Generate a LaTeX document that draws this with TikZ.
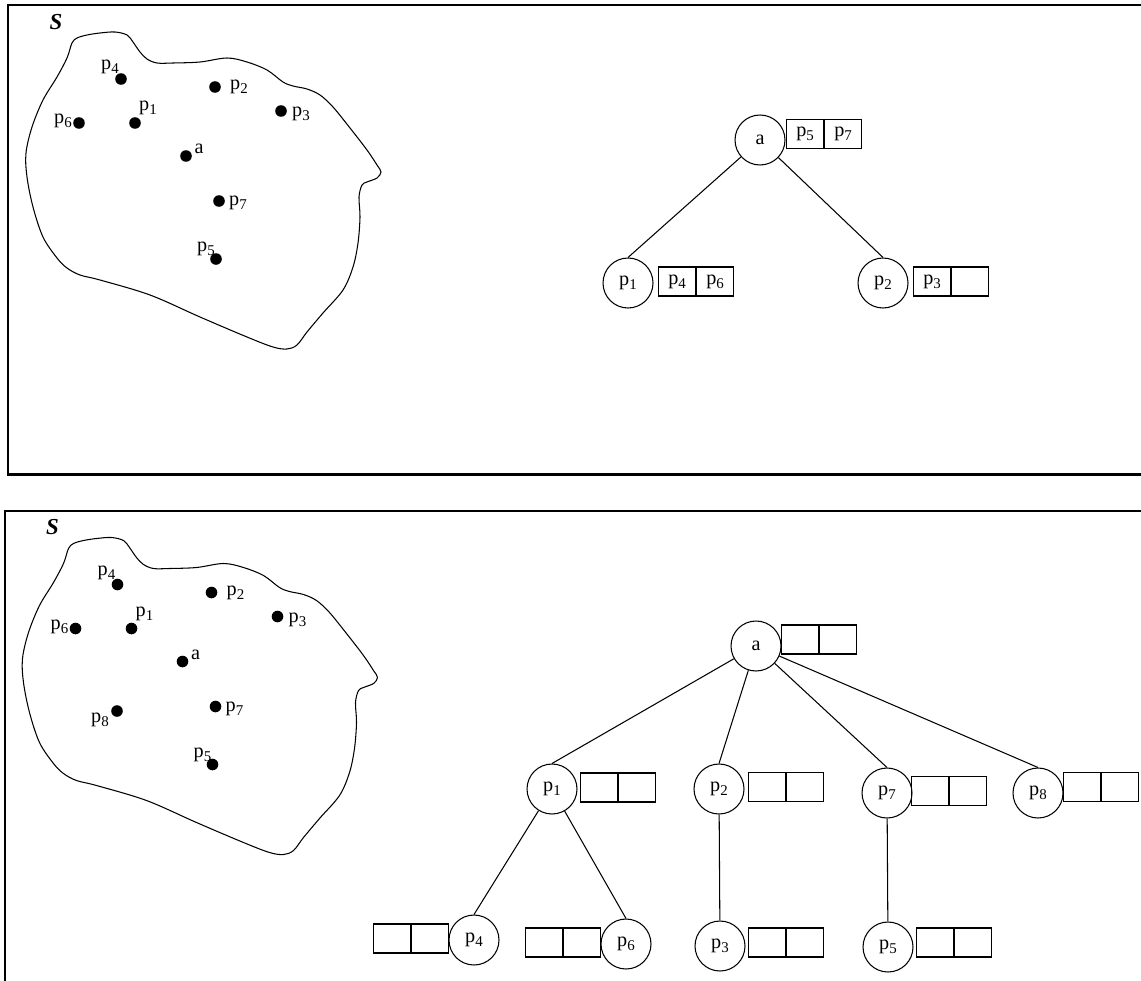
\documentclass[tikz,border=0pt]{standalone}
\usepackage{fontspec}
\setmainfont{Liberation Serif}
\usetikzlibrary{positioning}

\newcommand{\ptlabel}[1]{p\raisebox{-0.45ex}{\fontsize{8.5}{9}\selectfont #1}}

\tikzset{
  frame/.style={line width=1.2pt},
  edge/.style={line width=0.6pt},
  dot/.style={circle,fill=black,inner sep=0pt,minimum size=6.6pt},
  vertex/.style={draw,circle,minimum size=1cm,inner sep=0pt,line width=0.6pt},
  cell/.style={draw,rectangle,minimum width=0.74cm,minimum height=0.58cm,inner sep=0pt,line width=0.6pt}
}

% the region S with its points, names prefixed by #1
\newcommand{\pointset}[1]{%
  \node[font=\fontsize{13}{15}\selectfont\bfseries\itshape] (#1-S) at (56,22) {S};
  \draw[edge] plot[smooth cycle,tension=0.55] coordinates {
    (72,43) (77,38) (87,35) (100,33) (115,32) (127,35) (133,42) (140,52)
    (147,59) (157,63) (173,63) (200,62) (227,58) (247,62) (267,70) (283,82)
    (293,86) (307,89) (320,95) (333,107) (350,128) (367,150) (377,165)
    (381,172) (377,178) (367,182) (362,185) (359,197) (360,217) (358,243)
    (353,267) (343,290) (323,313) (307,332) (297,345) (287,349) (273,347)
    (247,337) (200,317) (150,295) (100,280) (80,275) (67,268) (57,258)
    (43,237) (33,207) (27,177) (26,153) (32,127) (43,100) (57,77) (67,58)};
  %% Points
  \node[dot] (#1-a) at (186,156) {};
  \node[dot] (#1-p1) at (135,123) {};
  \node[dot] (#1-p2) at (215,87) {};
  \node[dot] (#1-p3) at (281,111) {};
  \node[dot] (#1-p4) at (121,79) {};
  \node[dot] (#1-p5) at (216,259) {};
  \node[dot] (#1-p6) at (79,123) {};
  \node[dot] (#1-p7) at (219,201) {};
  %% Point labels
  \node (#1-la) at (199,149) {a};
  \node (#1-l1) at (148,108) {\ptlabel1};
  \node (#1-l2) at (239,87) {\ptlabel2};
  \node (#1-l3) at (301,114) {\ptlabel3};
  \node (#1-l4) at (110,67) {\ptlabel4};
  \node (#1-l5) at (206,249) {\ptlabel5};
  \node (#1-l6) at (63,121) {\ptlabel6};
  \node (#1-l7) at (238,203) {\ptlabel7};
}

\begin{document}
\begin{tikzpicture}[x=0.02cm,y=-0.02cm,font=\fontsize{11.5}{14}\selectfont]
        \clip (0,0) rectangle (1141,980);
        %% Frames
        \draw[frame] (8,5) rectangle (1160,474.5);
        \draw[frame] (5,511) rectangle (1160,1000);

        %% Upper panel
        \pointset{u}
        \node[vertex] (ua) at (760,140) {a};
        \node[vertex] (up1) at (628,283) {\ptlabel1};
        \node[vertex] (up2) at (883,283) {\ptlabel2};
        \node[cell,anchor=west] (ua-1) at (786,134) {\ptlabel5};
        \node[cell,right=0pt of ua-1] (ua-2) {\ptlabel7};
        \node[cell,anchor=west] (up1-1) at (658,281.5) {\ptlabel4};
        \node[cell,right=0pt of up1-1] (up1-2) {\ptlabel6};
        \node[cell,anchor=west] (up2-1) at (913,281.5) {\ptlabel3};
        \node[cell,right=0pt of up2-1] (up2-2) {};
        \draw[edge] (ua) -- (up1.north);
        \draw[edge] (ua) -- (up2.north);

        %% Lower panel
        \begin{scope}[shift={(-3.5,505.5)}]
          \pointset{l}
          \node[dot] (l-p8) at (120.5,205.5) {};
          \node (l-l8) at (103.5,214.5) {\ptlabel8};
        \end{scope}
        \node[vertex] (la) at (756,646) {a};
        \node[vertex] (lp1) at (552,789) {\ptlabel1};
        \node[vertex] (lp2) at (719,789) {\ptlabel2};
        \node[vertex] (lp7) at (887,793) {\ptlabel7};
        \node[vertex] (lp8) at (1038,793) {\ptlabel8};
        \node[vertex] (lp4) at (474,940) {\ptlabel4};
        \node[vertex] (lp6) at (626,944) {\ptlabel6};
        \node[vertex] (lp3) at (720,946) {\ptlabel3};
        \node[vertex] (lp5) at (888,947) {\ptlabel5};
        % empty cell pairs
        \node[cell,anchor=west] (la-1) at (781,639.5) {};
        \node[cell,right=0pt of la-1] (la-2) {};
        \node[cell,anchor=west] (lp1-1) at (580,787.5) {};
        \node[cell,right=0pt of lp1-1] (lp1-2) {};
        \node[cell,anchor=west] (lp2-1) at (748,787) {};
        \node[cell,right=0pt of lp2-1] (lp2-2) {};
        \node[cell,anchor=west] (lp7-1) at (911,791) {};
        \node[cell,right=0pt of lp7-1] (lp7-2) {};
        \node[cell,anchor=west] (lp8-1) at (1063,787) {};
        \node[cell,right=0pt of lp8-1] (lp8-2) {};
        \node[cell,anchor=east] (lp4-2) at (449,938.5) {};
        \node[cell,left=0pt of lp4-2] (lp4-1) {};
        \node[cell,anchor=east] (lp6-2) at (601,942.5) {};
        \node[cell,left=0pt of lp6-2] (lp6-1) {};
        \node[cell,anchor=west] (lp3-1) at (748,942.5) {};
        \node[cell,right=0pt of lp3-1] (lp3-2) {};
        \node[cell,anchor=west] (lp5-1) at (916,942.5) {};
        \node[cell,right=0pt of lp5-1] (lp5-2) {};
        \draw[edge] (la) -- (lp1.north);
        \draw[edge] (la) -- (lp2.north);
        \draw[edge] (la) -- (lp7.north);
        \draw[edge] (la) -- (lp8.north);
        \draw[edge] (lp1) -- (lp4.north);
        \draw[edge] (lp1) -- (lp6.north);
        \draw[edge] (lp2) -- (lp3);
        \draw[edge] (lp7) -- (lp5);
    \end{tikzpicture}
\end{document}
